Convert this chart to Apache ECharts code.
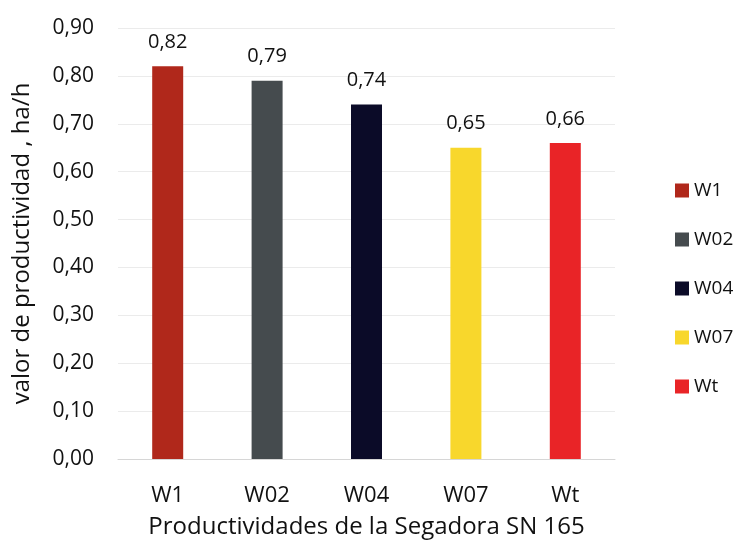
<!DOCTYPE html>
<html><head><meta charset="utf-8">
<script src="https://cdn.jsdelivr.net/npm/echarts@6/dist/echarts.min.js"></script>
<style>html,body{margin:0;padding:0;background:#fff}#c{width:740px;height:544px}</style>
</head><body><div id="c"></div>
<script>
const categories = ['W1','W02','W04','W07','Wt'];
const values = [0.82, 0.79, 0.74, 0.65, 0.66];
const colors = ['#B0281B','#454B4E','#0B0B28','#F8D72C','#E92427'];
const yTicks = [0,0.1,0.2,0.3,0.4,0.5,0.6,0.7,0.8,0.9];
const fmt = v => v.toFixed(2).replace('.', ',');
const FONT = 'Open Sans';
const series = categories.map((name, i) => ({
  name: name,
  type: 'bar',
  barWidth: 31,
  barGap: '-100%',
  itemStyle: {color: colors[i]},
  label: {show: true, position: 'top', distance: 14, color: '#111', fontSize: 20, fontFamily: FONT,
          formatter: p => fmt(p.value)},
  data: categories.map((c, j) => j === i ? values[i] : '-')
}));
const chart = echarts.init(document.getElementById('c'));
chart.setOption({
  animation: false,
  backgroundColor: '#fff',
  grid: {left: 118, right: 125, top: 28, bottom: 84},
  legend: {
    orient: 'vertical', left: 670, top: 176, itemGap: 30,
    itemWidth: 14, itemHeight: 14, icon: 'rect',
    textStyle: {fontSize: 19, fontFamily: FONT, color: '#111'},
    data: categories
  },
  xAxis: {
    type: 'category', data: categories,
    axisLine: {lineStyle: {color: '#d6d6d6'}}, axisTick: {show: false},
    axisLabel: {fontSize: 22, fontFamily: FONT, color: '#111', margin: 26},
    name: 'Productividades de la Segadora SN 165', nameLocation: 'middle', nameGap: 56,
    nameTextStyle: {fontSize: 24, fontFamily: FONT, color: '#111'}
  },
  yAxis: {
    type: 'value', min: 0, max: 0.9, interval: 0.1,
    axisLabel: {fontSize: 21, fontFamily: FONT, color: '#111', margin: 24,
                formatter: v => fmt(v)},
    splitLine: {lineStyle: {color: '#ebebeb'}},
    axisLine: {show: false}, axisTick: {show: false},
    name: 'valor de productividad , ha/h', nameLocation: 'middle', nameGap: 84,
    nameTextStyle: {fontSize: 24, fontFamily: FONT, color: '#111'}
  },
  series: series
});
</script></body></html>
